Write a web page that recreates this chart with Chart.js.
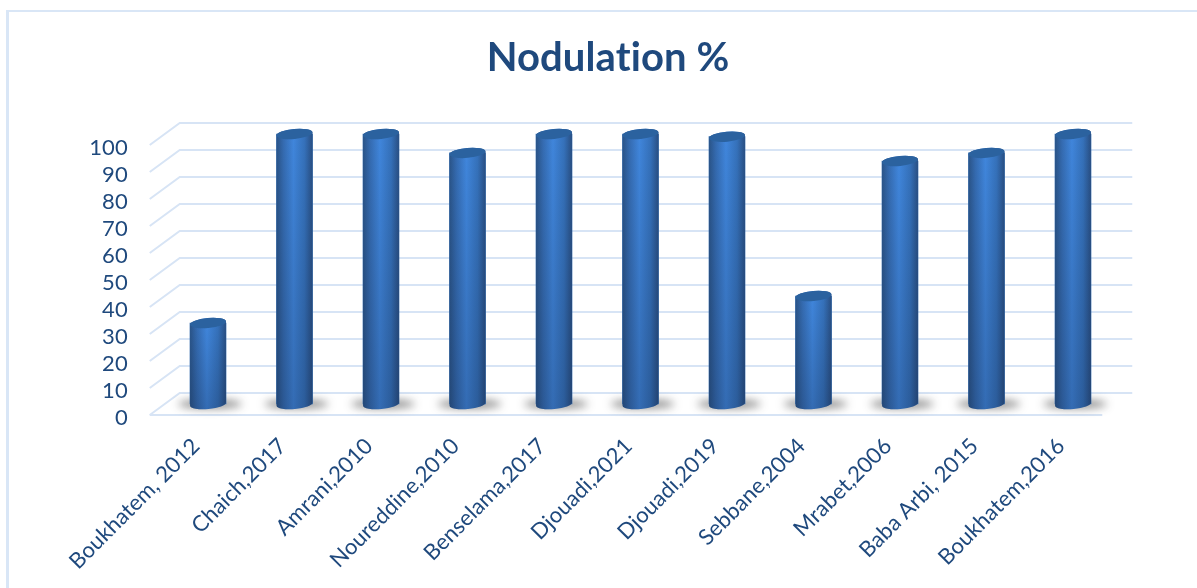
<!DOCTYPE html>
<html>
<head>
<meta charset="utf-8">
<title>Nodulation %</title>
<script src="https://cdn.jsdelivr.net/npm/chart.js@4"></script>
<style>
    html, body { margin: 0; padding: 0; background: #fff; overflow: hidden; }
    #frame {
        position: absolute; left: 6px; top: 10px; right: 0; bottom: 0;
        border-top: 2px solid #d9e6f6; border-left: 3px solid #d9e6f6;
    }
    canvas { position: absolute; left: 0; top: 0; }
</style>
</head>
<body>
<div id="frame"></div>
<canvas id="nodulationChart" width="1197" height="588"></canvas>
<script>
const studies = ['Boukhatem, 2012', 'Chaich,2017', 'Amrani,2010', 'Noureddine,2010', 'Benselama,2017',
    'Djouadi,2021', 'Djouadi,2019', 'Sebbane,2004', 'Mrabet,2006', 'Baba Arbi, 2015', 'Boukhatem,2016'];
const nodulation = [30, 100, 100, 93, 100, 100, 99, 40, 90, 93, 100];
const yTicks = [0, 10, 20, 30, 40, 50, 60, 70, 80, 90, 100];

const TEXT_COLOR = '#1f497d';
const GRID_COLOR = '#d7e4f5';
const FONT = 'Lato';

// how far the back wall sits from the front edge of the floor
const DEPTH_X = 30;
const DEPTH_Y = 22;

const forceTicks = scale => { scale.ticks = yTicks.map(value => ({ value })); };

// walls and floor lines, with the soft shadow under each bar
const backdrop = {
    id: 'backdrop',
    beforeDraw(chart) {
        // any spacing at all stops the font's "ti" ligature in the title
        chart.ctx.letterSpacing = '0.1px';
    },
    beforeDatasetsDraw(chart) {
        const { ctx, chartArea, scales } = chart;
        const backLeft = chartArea.left + 15;
        const backRight = chartArea.right + 16;

        ctx.save();
        ctx.strokeStyle = GRID_COLOR;
        ctx.lineWidth = 2;
        yTicks.forEach(v => {
            const yb = scales.yBack.getPixelForValue(v);
            ctx.beginPath();
            ctx.moveTo(backLeft - DEPTH_X, yb + DEPTH_Y);
            ctx.lineTo(backLeft, yb);
            ctx.lineTo(backRight, yb);
            ctx.stroke();
        });
        const floorY = scales.yBack.getPixelForValue(0) + DEPTH_Y;
        ctx.beginPath();
        ctx.moveTo(backLeft - DEPTH_X, floorY);
        ctx.lineTo(backRight - DEPTH_X, floorY);
        ctx.stroke();

        ctx.filter = 'blur(4px)';
        ctx.fillStyle = 'rgba(30,30,30,0.5)';
        chart.getDatasetMeta(0).data.forEach(bar => {
            ctx.beginPath();
            ctx.ellipse(bar.x + 2, bar.base, 32, 4.5, 0, 0, Math.PI * 2);
            ctx.fill();
        });
        ctx.restore();
    },
    // paints each library bar over as a shaded cylinder
    afterDatasetsDraw(chart) {
        const { ctx } = chart;
        const tilt = -0.09;
        const ry = 5;
        chart.getDatasetMeta(0).data.forEach(bar => {
            const rx = bar.width / 2;
            const left = bar.x - rx;
            const right = bar.x + rx;

            ctx.save();
            ctx.beginPath();
            ctx.ellipse(bar.x, bar.y, rx, ry, tilt, Math.PI, Math.PI * 2);
            ctx.ellipse(bar.x, bar.base, rx, ry, tilt, 0, Math.PI);
            ctx.closePath();
            ctx.clip();

            const side = ctx.createLinearGradient(left, 0, right, 0);
            side.addColorStop(0, '#2a5488');
            side.addColorStop(0.2, '#356cb2');
            side.addColorStop(0.47, '#4086dc');
            side.addColorStop(0.78, '#3571ba');
            side.addColorStop(1, '#294f83');
            ctx.fillStyle = side;
            ctx.fillRect(left - 2, bar.y - ry - 4, bar.width + 4, bar.base - bar.y + 2 * ry + 8);

            const fall = ctx.createLinearGradient(0, bar.y, 0, bar.base + ry);
            fall.addColorStop(0, 'rgba(15,30,60,0)');
            fall.addColorStop(1, 'rgba(15,30,60,0.25)');
            ctx.fillStyle = fall;
            ctx.fillRect(left - 2, bar.y - ry - 4, bar.width + 4, bar.base - bar.y + 2 * ry + 8);
            ctx.restore();

            ctx.fillStyle = '#2b629f';
            ctx.beginPath();
            ctx.ellipse(bar.x, bar.y, rx, ry, tilt, 0, Math.PI * 2);
            ctx.fill();
        });
    }
};

new Chart(document.getElementById('nodulationChart'), {
    type: 'bar',
    data: {
        labels: studies,
        datasets: [{
            label: 'Nodulation %',
            data: nodulation,
            yAxisID: 'yBars',
            backgroundColor: '#2f68ac',
            barThickness: 36
        }]
    },
    plugins: [backdrop],
    options: {
        responsive: false,
        animation: false,
        layout: { padding: { left: 19, right: 0, top: 0, bottom: 0 } },
        plugins: {
            legend: { display: false },
            tooltip: { enabled: false },
            title: {
                display: true,
                text: 'Nodulation %',
                color: TEXT_COLOR,
                font: { family: FONT, size: 40, weight: 'bold' },
                padding: { top: 34, bottom: 41 }
            }
        },
        scales: {
            x: {
                grid: { display: false },
                border: { display: false },
                afterFit: s => { s.height = 173; },
                ticks: {
                    color: TEXT_COLOR,
                    font: { family: FONT, size: 22 },
                    autoSkip: false,
                    minRotation: 45,
                    maxRotation: 45,
                    labelOffset: -12,
                    padding: 10
                }
            },
            // visible value axis, drawn on the front edge of the floor
            yFront: {
                position: 'left',
                min: 1.11,
                max: 109.26,
                afterBuildTicks: forceTicks,
                afterFit: s => { s.width = 145.75; },
                grid: { display: false },
                border: { display: false },
                ticks: { color: TEXT_COLOR, font: { family: FONT, size: 22 }, autoSkip: false, padding: 29 }
            },
            // plane the bars stand on, midway into the floor
            yBars: { display: false, min: -4.07, max: 104.07 },
            // back wall, where the gridlines run; its empty box holds the right margin
            yBack: {
                position: 'right',
                min: -8.15,
                max: 100,
                afterFit: s => { s.width = 80.75; },
                grid: { display: false },
                border: { display: false },
                ticks: { display: false }
            }
        }
    }
});
</script>
</body>
</html>
